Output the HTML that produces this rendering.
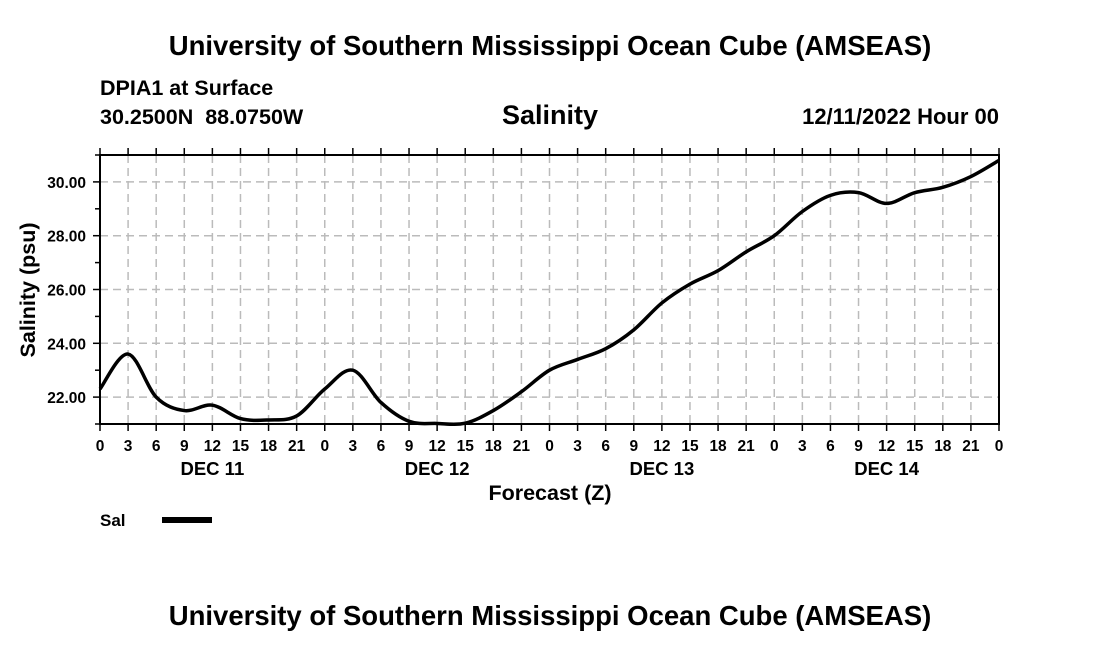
<!DOCTYPE html>
<html><head><meta charset="utf-8"><style>
body{margin:0;background:#fff;}
svg text{font-family:"Liberation Sans",Arial,sans-serif;font-weight:bold;fill:#000;white-space:pre;}
</style></head><body>
<svg id="chart" width="1100" height="650" viewBox="0 0 1100 650" xmlns="http://www.w3.org/2000/svg">
<rect width="1100" height="650" fill="#fff"/>
<text x="550" y="55" font-size="27.5" text-anchor="middle">University of Southern Mississippi Ocean Cube (AMSEAS)</text>
<text x="100" y="95" font-size="21.5">DPIA1 at Surface</text>
<text x="100" y="124" font-size="21.5" xml:space="preserve">30.2500N  88.0750W</text>
<text x="550" y="124" font-size="27" text-anchor="middle">Salinity</text>
<text x="999" y="124" font-size="22" text-anchor="end">12/11/2022 Hour 00</text>
<g id="grid"></g>
<g id="axes"></g>
<path id="line" fill="none" stroke="#000" stroke-width="3.5" stroke-linejoin="round"/>
<text x="550" y="500" font-size="21.5" text-anchor="middle">Forecast (Z)</text>
<text transform="translate(35,290) rotate(-90)" font-size="21.5" text-anchor="middle">Salinity (psu)</text>
<text x="100" y="526" font-size="17">Sal</text>
<rect x="162" y="517" width="50" height="6" fill="#000"/>
<text x="550" y="625" font-size="27.5" text-anchor="middle">University of Southern Mississippi Ocean Cube (AMSEAS)</text>
</svg>
<script>
const hours=[0,3,6,9,12,15,18,21,24,27,30,33,36,39,42,45,48,51,54,57,60,63,66,69,72,75,78,81,84,87,90,93,96];
const salinity=[22.3,23.6,22.0,21.5,21.7,21.2,21.15,21.3,22.3,23.0,21.8,21.1,21.02,21.03,21.5,22.2,23.0,23.4,23.8,24.5,25.5,26.2,26.7,27.4,28.0,28.9,29.5,29.6,29.2,29.6,29.8,30.2,30.8];
const yTicks=[22,24,26,28,30];
const yTickLabels=["22.00","24.00","26.00","28.00","30.00"];
const dayLabels=["DEC 11","DEC 12","DEC 13","DEC 14"];
const L=100,R=999,T=155,B=424,X0=0,X1=96,Y0=21,Y1=31;
const sx=h=>L+(h-X0)/(X1-X0)*(R-L);
const sy=v=>B-(v-Y0)/(Y1-Y0)*(B-T);
const NS="http://www.w3.org/2000/svg";
const grid=document.getElementById('grid'),axes=document.getElementById('axes');
function mk(p,tag,attrs){const e=document.createElementNS(NS,tag);for(const k in attrs)e.setAttribute(k,attrs[k]);p.appendChild(e);return e;}
for(let h=3;h<96;h+=3){const g=mk(grid,'line',{x1:sx(h),x2:sx(h),y1:T,y2:B,stroke:'#bbb','stroke-width':1.5,'stroke-dasharray':'8,5'});

}
yTicks.forEach((v,i)=>{const g=mk(grid,'line',{x1:L,x2:R,y1:sy(v),y2:sy(v),stroke:'#bbb','stroke-width':1.5,'stroke-dasharray':'8,5'});


const t=mk(axes,'text',{x:L-14,y:sy(v)+6,'font-size':15.5,'text-anchor':'end'});t.textContent=yTickLabels[i];

});
for(let v=Y0;v<=Y1;v++){mk(axes,'line',{x1:L-(v%2===0?7:5),x2:L,y1:sy(v),y2:sy(v),stroke:'#000','stroke-width':1.5});}
mk(axes,'rect',{x:L,y:T,width:R-L,height:B-T,fill:'none',stroke:'#000','stroke-width':2});
for(let h=0;h<=96;h+=3){
mk(axes,'line',{x1:sx(h),x2:sx(h),y1:B,y2:B+7,stroke:'#000','stroke-width':1.5});
mk(axes,'line',{x1:sx(h),x2:sx(h),y1:T-7,y2:T,stroke:'#000','stroke-width':1.5});
const t=mk(axes,'text',{x:sx(h),y:451,'font-size':15.5,'text-anchor':'middle'});t.textContent=String(h%24);

}
dayLabels.forEach((d,i)=>{const t=mk(axes,'text',{x:sx(i*24+12),y:475,'font-size':18.5,'text-anchor':'middle'});t.textContent=d;

});
const pts=hours.map((h,i)=>[sx(h),sy(salinity[i])]);
let d='M'+pts[0][0]+','+pts[0][1];
for(let i=0;i<pts.length-1;i++){const p0=pts[Math.max(0,i-1)],p1=pts[i],p2=pts[i+1],p3=pts[Math.min(pts.length-1,i+2)];
d+=' C'+(p1[0]+(p2[0]-p0[0])/6)+','+(p1[1]+(p2[1]-p0[1])/6)+' '+(p2[0]-(p3[0]-p1[0])/6)+','+(p2[1]-(p3[1]-p1[1])/6)+' '+p2[0]+','+p2[1];}
document.getElementById('line').setAttribute('d',d);
</script>
</body></html>
